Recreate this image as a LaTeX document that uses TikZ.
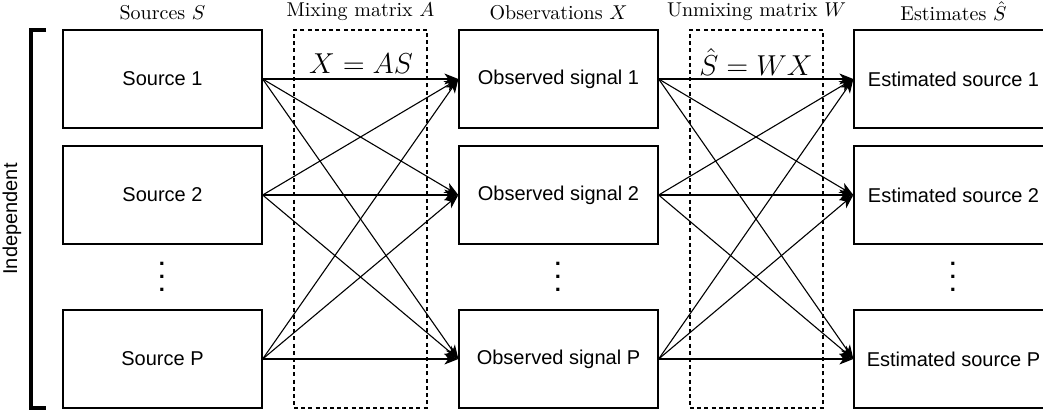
\documentclass[tikz,border=0pt]{standalone}
\usepackage{fontspec}
\newfontfamily\boxfont{Liberation Sans}
\usetikzlibrary{arrows.meta}

\begin{document}
\begin{tikzpicture}[x=0.5pt,y=-0.5pt]
        \tikzstyle{block}=[draw=black,line width=0.65pt,minimum width=99.5pt,minimum height=49pt,font=\boxfont]
        \tikzstyle{matrixbox}=[draw=black,dashed,dash pattern=on 2pt off 1.6pt,line width=0.55pt,minimum width=66.5pt,minimum height=189pt]
        \tikzstyle{arr}=[line width=0.55pt,-{Stealth[length=7pt,width=5.5pt,inset=2pt]}]
        \tikzstyle{dots}=[align=center,font=\boxfont\bfseries\fontsize{11}{6.5}\selectfont]
        \tikzstyle{head}=[label distance=1pt]
        \tikzstyle{eq}=[font=\fontsize{13.8}{16}\selectfont]

        \clip (0,0) rectangle (1043,412);

        % sources
        \node (s1)[block,label={[head]90:Sources $S$}] at (162.5,79) {Source 1};
        \node (s2)[block] at (162.5,195) {Source 2};
        \node (sd)[dots] at (162,277) {.\\.\\.};
        \node (sp)[block] at (162.5,359) {Source P};

        % observations
        \node (o1)[block,label={[head]90:Observations $X$}] at (558.5,79) {Observed signal 1};
        \node (o2)[block] at (558.5,195) {Observed signal 2};
        \node (od)[dots] at (558,277) {.\\.\\.};
        \node (op)[block] at (558.5,359) {Observed signal P};

        % estimates
        \node (e1)[block,label={[head]90:Estimates $\hat{S}$}] at (953.5,79) {Estimated source 1};
        \node (e2)[block] at (953.5,195) {Estimated source 2};
        \node (ed)[dots] at (953,277) {.\\.\\.};
        \node (ep)[block] at (953.5,359) {Estimated source P};

        % mixing / unmixing
        \node (a)[matrixbox,label={[head]90:Mixing matrix $A$}] at (360.5,219) {};
        \node (w)[matrixbox,label={[head]90:Unmixing matrix $W$}] at (756.5,219) {};
        \node (aeq)[eq] at (361,64) {$X = AS$};
        \node (weq)[eq] at (756,62) {$\hat{S} = WX$};

        % sources -> observations
        \draw[arr] (s1.east) -- (o1.west);
        \draw[arr] (s1.east) -- (o2.west);
        \draw[arr] (s1.east) -- (op.west);
        \draw[arr] (s2.east) -- (o1.west);
        \draw[arr] (s2.east) -- (o2.west);
        \draw[arr] (s2.east) -- (op.west);
        \draw[arr] (sp.east) -- (o1.west);
        \draw[arr] (sp.east) -- (o2.west);
        \draw[arr] (sp.east) -- (op.west);

        % observations -> estimates
        \draw[arr] (o1.east) -- (e1.west);
        \draw[arr] (o1.east) -- (e2.west);
        \draw[arr] (o1.east) -- (ep.west);
        \draw[arr] (o2.east) -- (e1.west);
        \draw[arr] (o2.east) -- (e2.west);
        \draw[arr] (o2.east) -- (ep.west);
        \draw[arr] (op.east) -- (e1.west);
        \draw[arr] (op.east) -- (e2.west);
        \draw[arr] (op.east) -- (ep.west);

        % bracket
        \draw[line width=1.8pt] (46,30) -- (31,30) -- (31,408) -- (46,408);
        \node (ind)[rotate=90,font=\boxfont] at (12,219) {Independent};
    \end{tikzpicture}
\end{document}
